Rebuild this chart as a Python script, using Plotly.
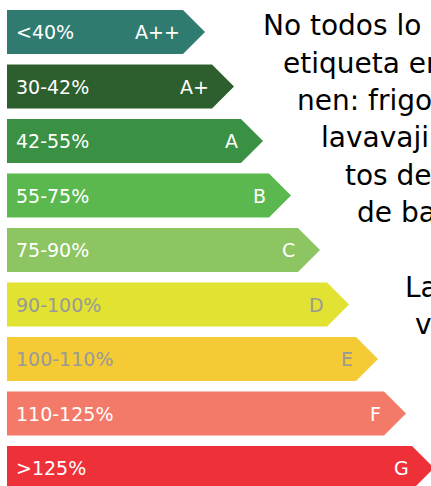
import plotly.graph_objects as go

# energy classes, top to bottom
classes = ["A++", "A+", "A", "B", "C", "D", "E", "F", "G"]
ranges = ["<40%", "30-42%", "42-55%", "55-75%", "75-90%", "90-100%", "100-110%", "110-125%", ">125%"]
# length of each arrow body (x units = pixels of the reference)
bar_len = [176, 205, 234, 262, 291, 320, 349, 377, 405]

colors = ["#2f7b70", "#2d5e2d", "#3a9143", "#5bb84f", "#8cc562",
          "#e1e232", "#f4cb35", "#f37a68", "#ee3038"]
label_colors = ["white", "white", "white", "white", "white",
                "#999999", "#999999", "white", "white"]

# cut-off paragraph on the right
text_lines = ["No todos lo", "etiqueta en", "nen: frigor", "lavavajil",
              "tos de", "de ba", "", "La", "v"]

X0 = 7        # left edge of the arrows
TIP = 22      # depth of the arrow point
HALF = 0.404  # half height of an arrow in row units

fig = go.Figure()
for i, (cls, rng, ln) in enumerate(zip(classes, ranges, bar_len)):
    xe = X0 + ln
    fig.add_trace(
        go.Scatter(
            x=[X0, xe, xe + TIP, xe, X0, X0],
            y=[i - HALF, i - HALF, i, i + HALF, i + HALF, i - HALF],
            mode="lines",
            fill="toself",
            fillcolor=colors[i],
            line=dict(width=0),
            hoverinfo="skip",
            showlegend=False,
        )
    )
    fig.add_annotation(x=X0 + 7, y=i, text=rng, showarrow=False, xanchor="left",
                       font=dict(family="DejaVu Sans", size=19, color=label_colors[i]))
    fig.add_annotation(x=xe - 1, y=i, text=cls, showarrow=False, xanchor="right",
                       font=dict(family="DejaVu Sans", size=19, color=label_colors[i]))

line_x = [261, 281, 295, 319, 343, 355, 0, 403, 413]
for k, (t, lx) in enumerate(zip(text_lines, line_x)):
    if not t:
        continue
    base = 35 + 37.3 * k
    fig.add_annotation(x=lx / 431, y=1 - (base - 9) / 486, xref="paper", yref="paper",
                       text=t, showarrow=False, xanchor="left", yanchor="middle",
                       font=dict(family="DejaVu Sans", size=28, color="black"))

fig.update_xaxes(range=[0, 431], visible=False, fixedrange=True)
fig.update_yaxes(range=[(486 - 32) / 54.5, -32 / 54.5], visible=False, fixedrange=True)
fig.update_layout(
    width=431, height=486,
    margin=dict(l=0, r=0, t=0, b=0),
    paper_bgcolor="white", plot_bgcolor="white",
)
fig.write_html("out.html", config={"displayModeBar": False},
               post_script="document.body.style.margin='0';")
